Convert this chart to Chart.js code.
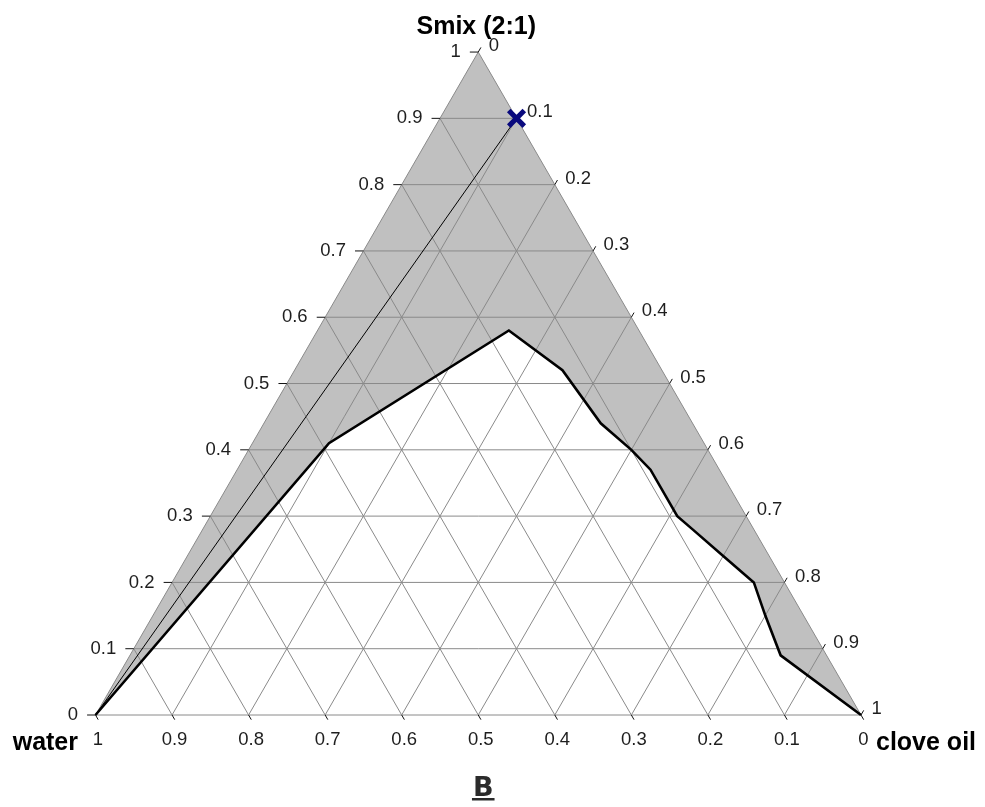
<!DOCTYPE html>
<html>
<head>
<meta charset="utf-8">
<title>Pseudo-ternary phase diagram</title>
<script src="https://cdn.jsdelivr.net/npm/chart.js@4.4.1/dist/chart.umd.min.js"></script>
<style>
  html, body { margin: 0; padding: 0; background: #fff; }
  #wrap { width: 985px; height: 807px; }
</style>
</head>
<body>
<div id="wrap"><canvas id="c" width="985" height="807"></canvas></div>
<script>
// Tick positions / labels shared by the three composition axes
const tickValues = [0, 0.1, 0.2, 0.3, 0.4, 0.5, 0.6, 0.7, 0.8, 0.9, 1];
const tickLabels = ['0', '0.1', '0.2', '0.3', '0.4', '0.5', '0.6', '0.7', '0.8', '0.9', '1'];

// Phase boundary, walked from the water corner to the clove-oil corner (mass fractions)
const boundaryWater = [1, 0.49, 0.17, 0.13, 0.12, 0.10, 0.09, 0.09, 0.08, 0.06, 0.04, 0.05, 0.06, 0];
const boundaryOil   = [0, 0.10, 0.25, 0.35, 0.44, 0.50, 0.54, 0.61, 0.64, 0.70, 0.76, 0.80, 0.85, 1];
const boundarySmix  = [0, 0.41, 0.58, 0.52, 0.44, 0.40, 0.37, 0.30, 0.28, 0.24, 0.20, 0.15, 0.09, 0];

// Dilution path: oil/Smix blend (1:9) titrated with water
const dilutionWater = [1, 0];
const dilutionOil   = [0, 0.1];
const dilutionSmix  = [0, 0.9];

// Selected formulation
const markerWater = [0];
const markerOil   = [0.1];
const markerSmix  = [0.9];

const cornerNames = { water: 'water', oil: 'clove oil', smix: 'Smix (2:1)' };
const panelLetter = 'B';

// ---- ternary -> cartesian projection (water bottom-left, oil bottom-right, Smix top)
const H = Math.sqrt(3) / 2;
function tern(w, o, s) {
  const t = w + o + s;
  o /= t; s /= t;
  return { x: o + s / 2, y: s * H };
}
function series(ws, os, ss) {
  return ws.map((w, i) => tern(w, os[i], ss[i]));
}

// Page geometry: where the triangle sits on the 985x807 canvas
const W = 985, HT = 807;
const leftPx = 95.5, basePx = 715, sidePx = 765.5;
const xMin = -leftPx / sidePx, xMax = (W - leftPx) / sidePx;
const yMax = basePx / sidePx, yMin = -(HT - basePx) / sidePx;

const GRID = '#8a8a8a';
const datasets = [];

// shaded region: triangle edges down to the boundary curve
const shade = [tern(1, 0, 0), tern(0, 0, 1), tern(0, 1, 0)]
  .concat(series(boundaryWater, boundaryOil, boundarySmix).reverse());
datasets.push({
  data: shade, showLine: true, fill: 'shape', backgroundColor: '#c0c0c0',
  borderWidth: 0, borderColor: 'rgba(0,0,0,0)', pointRadius: 0, order: 100
});

// inner grid lines (one family per component)
tickValues.slice(1, -1).forEach(v => {
  const segs = [
    [tern(1 - v, 0, v), tern(0, 1 - v, v)],     // constant Smix
    [tern(1 - v, v, 0), tern(0, v, 1 - v)],     // constant oil
    [tern(v, 1 - v, 0), tern(v, 0, 1 - v)]      // constant water
  ];
  segs.forEach(seg => datasets.push({
    data: seg, showLine: true, borderColor: GRID, borderWidth: 1,
    pointRadius: 0, fill: false, order: 50
  }));
});

// triangle outline
datasets.push({
  data: [tern(1, 0, 0), tern(0, 1, 0), tern(0, 0, 1), tern(1, 0, 0)],
  showLine: true, borderColor: GRID, borderWidth: 1, pointRadius: 0, fill: false, order: 45
});

// small tick marks on the outside of each edge
const tl = 0.011, ts = 0.007;
tickValues.forEach(v => {
  const ticks = [
    [tern(1 - v, 0, v), { x: tern(1 - v, 0, v).x - tl, y: tern(1 - v, 0, v).y }],
    [tern(0, v, 1 - v), { x: tern(0, v, 1 - v).x + ts / 2, y: tern(0, v, 1 - v).y + ts * H }],
    [tern(v, 1 - v, 0), { x: tern(v, 1 - v, 0).x + ts / 2, y: tern(v, 1 - v, 0).y - ts * H }]
  ];
  ticks.forEach(seg => datasets.push({
    data: seg, showLine: true, borderColor: '#111', borderWidth: 1,
    pointRadius: 0, fill: false, order: 40
  }));
});

// phase boundary
datasets.push({
  data: series(boundaryWater, boundaryOil, boundarySmix), showLine: true,
  borderColor: '#000', borderWidth: 2.6, pointRadius: 0, fill: false,
  borderJoinStyle: 'miter', order: 20
});

// dilution line
datasets.push({
  data: series(dilutionWater, dilutionOil, dilutionSmix), showLine: true,
  borderColor: '#000', borderWidth: 1, pointRadius: 0, fill: false, order: 10
});

// selected composition
datasets.push({
  data: series(markerWater, markerOil, markerSmix), showLine: false,
  pointStyle: 'crossRot', pointRadius: 11, pointBorderWidth: 5,
  pointBorderColor: '#0a0a7e', pointBackgroundColor: '#0a0a7e', order: 0
});

// axis labels, corner names and panel letter
const labelPlugin = {
  id: 'ternaryText',
  afterDatasetsDraw(chart) {
    const { ctx, scales: { x, y } } = chart;
    const P = (w, o, s) => { const p = tern(w, o, s); return [x.getPixelForValue(p.x), y.getPixelForValue(p.y)]; };
    ctx.save();
    ctx.fillStyle = '#1e1e1e';
    ctx.font = '18.5px "Liberation Sans", Arial, sans-serif';
    tickValues.forEach((v, i) => {
      const [lx, ly] = P(1 - v, 0, v);
      ctx.textAlign = 'right'; ctx.textBaseline = 'middle';
      ctx.fillText(tickLabels[i], lx - 17.5, ly);
      const [rx, ry] = P(0, v, 1 - v);
      ctx.textAlign = 'left';
      ctx.fillText(tickLabels[i], rx + 10.5, ry - 6);
      const [bx, by] = P(v, 1 - v, 0);
      ctx.textAlign = 'center';
      ctx.fillText(tickLabels[i], bx + 2.5, by + 25);
    });

    ctx.fillStyle = '#000';
    ctx.font = 'bold 25px "Liberation Sans", Arial, sans-serif';
    ctx.textBaseline = 'alphabetic';
    const [wx, wy] = P(1, 0, 0);
    ctx.textAlign = 'right';
    ctx.fillText(cornerNames.water, wx - 17.5, wy + 35);
    const [ox, oy] = P(0, 1, 0);
    ctx.textAlign = 'left';
    ctx.fillText(cornerNames.oil, ox + 15, oy + 35);
    const [sx, sy] = P(0, 0, 1);
    ctx.textAlign = 'center';
    ctx.fillText(cornerNames.smix, sx - 2, sy - 18);

    // panel letter, underlined
    ctx.fillStyle = '#2b2b2b';
    ctx.font = 'bold 27px "DejaVu Sans", sans-serif';
    const cx = (wx + ox) / 2 + 5, base = wy + 81;
    ctx.fillText(panelLetter, cx, base);
    const tw = ctx.measureText(panelLetter).width;
    ctx.fillRect(cx - tw / 2 - 1, base + 2, tw + 2, 2.5);
    ctx.restore();
  }
};

new Chart(document.getElementById('c'), {
  type: 'scatter',
  data: { datasets },
  options: {
    responsive: false,
    animation: false,
    events: [],
    layout: { padding: 0, autoPadding: false },
    plugins: { legend: { display: false }, tooltip: { enabled: false }, title: { display: false } },
    scales: {
      x: { type: 'linear', min: xMin, max: xMax, display: false },
      y: { type: 'linear', min: yMin, max: yMax, display: false }
    }
  },
  plugins: [labelPlugin]
});
</script>
</body>
</html>
